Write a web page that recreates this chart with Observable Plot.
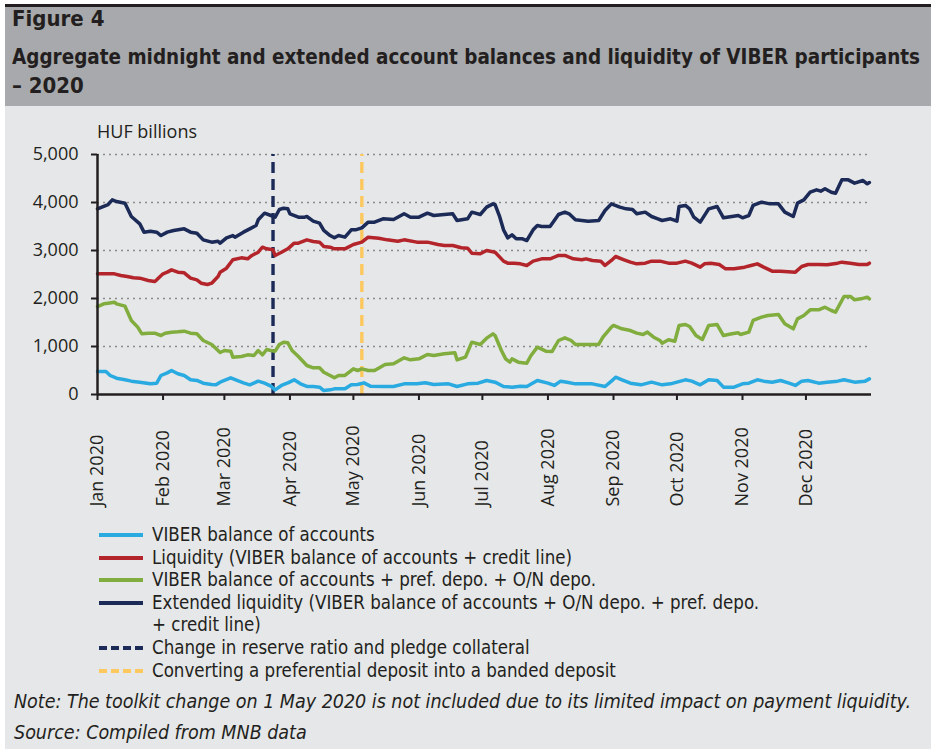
<!DOCTYPE html>
<html>
<head>
<meta charset="utf-8">
<script src="https://cdn.jsdelivr.net/npm/d3@7"></script>
<script src="https://cdn.jsdelivr.net/npm/@observablehq/plot@0.6"></script>
<style>
  body { margin: 0; background: #ffffff; width: 934px; height: 749px; overflow: hidden; position: relative; }
  .abs { position: absolute; white-space: nowrap; }
  .narrow { font-family: "Liberation Sans Narrow", "DejaVu Sans Condensed", sans-serif; color: #231f20; }
  #topline { left: 5px; top: 4px; width: 926px; height: 3px; background: #231f20; }
  #header { left: 5px; top: 7px; width: 926px; height: 99px; background: #a7a9ac; }
  #panel { left: 5px; top: 106px; width: 926px; height: 643px; background: #e6e7e8; }
  .title { font-weight: bold; font-size: 22px; line-height: 28px; left: 12px; transform-origin: 0 50%; }
  .leg { left: 99px; height: 22px; }
  .leg .sw { position: absolute; left: 0; top: 9px; width: 44px; height: 0; border-top: 4px solid; }
  .leg .lt { position: absolute; left: 53px; top: 0; font-size: 19.5px; line-height: 22px; transform-origin: 0 50%; white-space: nowrap; }
  .foot { left: 14px; font-style: italic; font-size: 19.5px; line-height: 24px; transform-origin: 0 50%; }
  #chart { left: 5px; top: 110px; }
  #unit { left: 97px; top: 119px; font-family: "Open Sans", sans-serif; font-size: 18px; line-height: 24px; color: #231f20; }
</style>
</head>
<body>
<div id="topline" class="abs"></div>
<div id="header" class="abs"></div>
<div id="panel" class="abs"></div>
<div class="abs narrow title" id="t1" style="top:5px">Figure 4</div>
<div class="abs narrow title" id="t2" style="top:43px">Aggregate midnight and extended account balances and liquidity of VIBER participants</div>
<div class="abs narrow title" id="t3" style="top:72px">– 2020</div>
<div id="unit" class="abs">HUF billions</div>
<div id="chart" class="abs"></div>
<div id="legend"></div>
<div class="abs narrow foot" id="note" style="top:690px">Note: The toolkit change on 1 May 2020 is not included due to its limited impact on payment liquidity.</div>
<div class="abs narrow foot" id="src" style="top:721px">Source: Compiled from MNB data</div>
<script>
// ---------- data (HUF billions) ----------
const yTicks = [0, 1000, 2000, 3000, 4000, 5000];
const monthStarts = ["2020-01-01","2020-02-01","2020-03-01","2020-04-01","2020-05-01","2020-06-01","2020-07-01","2020-08-01","2020-09-01","2020-10-01","2020-11-01","2020-12-01"];
const monthLabels = ["Jan 2020","Feb 2020","Mar 2020","Apr 2020","May 2020","Jun 2020","Jul 2020","Aug 2020","Sep 2020","Oct 2020","Nov 2020","Dec 2020"];

const seriesNames = [
  "VIBER balance of accounts",
  "Liquidity (VIBER balance of accounts + credit line)",
  "VIBER balance of accounts + pref. depo. + O/N depo.",
  "Extended liquidity (VIBER balance of accounts + O/N depo. + pref. depo.\n+ credit line)"
];
const eventDates = ["2020-03-24", "2020-05-05"];
const eventNames = [
  "Change in reserve ratio and pledge collateral",
  "Converting a preferential deposit into a banded deposit"
];

const viberBalance = [
  ["2020-01-01",479],["2020-01-05",479],["2020-01-07",396],["2020-01-10",340],["2020-01-14",306],["2020-01-17",278],["2020-01-21",257],["2020-01-26",222],["2020-01-29",236],["2020-01-31",396],
  ["2020-02-03",451],["2020-02-05",500],["2020-02-08",431],["2020-02-11",396],["2020-02-14",306],["2020-02-17",292],["2020-02-20",236],["2020-02-24",208],["2020-02-26",201],["2020-02-28",257],
  ["2020-03-01",292],["2020-03-04",347],["2020-03-07",292],["2020-03-10",243],["2020-03-13",201],["2020-03-17",278],["2020-03-20",236],["2020-03-23",174],["2020-03-25",97],["2020-03-28",188],["2020-03-31",243],
  ["2020-04-03",306],["2020-04-06",222],["2020-04-09",167],["2020-04-12",167],["2020-04-15",153],["2020-04-17",83],["2020-04-20",97],["2020-04-22",118],["2020-04-27",118],["2020-04-30",201],
  ["2020-05-03",208],["2020-05-06",243],["2020-05-09",174],["2020-05-16",167],["2020-05-20",167],["2020-05-25",222],["2020-05-31",222],
  ["2020-06-04",243],["2020-06-08",208],["2020-06-15",222],["2020-06-19",167],["2020-06-24",222],["2020-06-29",236],
  ["2020-07-03",292],["2020-07-07",257],["2020-07-11",167],["2020-07-15",153],["2020-07-19",174],["2020-07-22",167],["2020-07-27",292],
  ["2020-08-01",236],["2020-08-04",188],["2020-08-07",278],["2020-08-10",257],["2020-08-14",222],["2020-08-17",222],["2020-08-22",222],["2020-08-28",167],["2020-08-31",278],
  ["2020-09-02",361],["2020-09-05",306],["2020-09-09",236],["2020-09-14",201],["2020-09-19",257],["2020-09-24",201],["2020-09-28",222],
  ["2020-10-01",257],["2020-10-05",306],["2020-10-08",278],["2020-10-12",201],["2020-10-16",306],["2020-10-20",292],["2020-10-23",153],["2020-10-28",153],
  ["2020-11-01",222],["2020-11-04",236],["2020-11-08",306],["2020-11-11",278],["2020-11-15",257],["2020-11-19",292],["2020-11-23",236],["2020-11-26",188],["2020-11-29",278],
  ["2020-12-02",292],["2020-12-07",236],["2020-12-11",257],["2020-12-16",278],["2020-12-19",306],["2020-12-24",257],["2020-12-29",278],["2020-12-31",326]
];

const liquidity = [
  ["2020-01-01",2514],["2020-01-04",2514],["2020-01-09",2514],["2020-01-12",2479],["2020-01-15",2458],["2020-01-18",2431],["2020-01-21",2424],["2020-01-25",2375],["2020-01-28",2354],["2020-01-29",2389],
  ["2020-02-01",2514],["2020-02-03",2549],["2020-02-05",2597],["2020-02-08",2549],["2020-02-11",2535],["2020-02-14",2424],["2020-02-17",2389],["2020-02-19",2319],["2020-02-22",2292],["2020-02-24",2319],["2020-02-27",2458],["2020-02-28",2549],
  ["2020-03-02",2632],["2020-03-05",2806],["2020-03-09",2847],["2020-03-12",2826],["2020-03-14",2896],["2020-03-17",2965],["2020-03-19",3069],["2020-03-21",3035],["2020-03-24",3014],["2020-03-25",2896],["2020-03-28",2965],["2020-03-31",3035],
  ["2020-04-03",3153],["2020-04-05",3153],["2020-04-09",3222],["2020-04-12",3188],["2020-04-15",3174],["2020-04-17",3083],["2020-04-20",3069],["2020-04-22",3035],["2020-04-27",3035],
  ["2020-05-01",3125],["2020-05-05",3174],["2020-05-08",3278],["2020-05-13",3257],["2020-05-17",3222],["2020-05-22",3194],["2020-05-25",3222],["2020-05-31",3174],
  ["2020-06-05",3174],["2020-06-10",3125],["2020-06-13",3104],["2020-06-17",3104],["2020-06-21",3056],["2020-06-24",3049],["2020-06-26",2944],["2020-06-30",2931],
  ["2020-07-03",3000],["2020-07-07",2965],["2020-07-11",2778],["2020-07-13",2736],["2020-07-16",2736],["2020-07-19",2722],["2020-07-22",2688],["2020-07-25",2778],["2020-07-29",2826],
  ["2020-08-02",2826],["2020-08-06",2896],["2020-08-09",2896],["2020-08-13",2826],["2020-08-17",2806],["2020-08-19",2826],["2020-08-22",2792],["2020-08-26",2778],["2020-08-28",2688],["2020-08-31",2792],
  ["2020-09-02",2875],["2020-09-06",2806],["2020-09-09",2757],["2020-09-12",2722],["2020-09-16",2736],["2020-09-19",2778],["2020-09-23",2778],["2020-09-27",2736],
  ["2020-10-01",2736],["2020-10-05",2778],["2020-10-08",2736],["2020-10-12",2653],["2020-10-14",2722],["2020-10-17",2736],["2020-10-21",2708],["2020-10-24",2618],["2020-10-28",2618],
  ["2020-11-02",2653],["2020-11-05",2688],["2020-11-08",2722],["2020-11-11",2653],["2020-11-15",2569],["2020-11-19",2569],["2020-11-26",2549],["2020-11-29",2667],
  ["2020-12-02",2708],["2020-12-07",2708],["2020-12-11",2701],["2020-12-16",2736],["2020-12-18",2757],["2020-12-22",2736],["2020-12-26",2708],["2020-12-30",2708],["2020-12-31",2736]
];

const viberDepo = [
  ["2020-01-01",1833],["2020-01-04",1889],["2020-01-06",1903],["2020-01-09",1924],["2020-01-10",1889],["2020-01-14",1840],["2020-01-17",1542],["2020-01-20",1403],["2020-01-22",1264],["2020-01-25",1278],["2020-01-28",1278],["2020-01-31",1229],
  ["2020-02-02",1278],["2020-02-05",1299],["2020-02-08",1306],["2020-02-11",1319],["2020-02-14",1278],["2020-02-17",1264],["2020-02-20",1125],["2020-02-24",1042],["2020-02-27",917],["2020-02-28",875],
  ["2020-03-01",917],["2020-03-04",903],["2020-03-05",778],["2020-03-09",792],["2020-03-12",826],["2020-03-15",813],["2020-03-17",917],["2020-03-19",826],["2020-03-21",938],["2020-03-23",917],["2020-03-25",903],["2020-03-27",1042],["2020-03-29",1090],["2020-03-31",1076],
  ["2020-04-02",917],["2020-04-05",792],["2020-04-09",604],["2020-04-12",556],["2020-04-15",556],["2020-04-17",465],["2020-04-20",396],["2020-04-22",347],["2020-04-24",396],["2020-04-27",396],
  ["2020-05-01",535],["2020-05-03",500],["2020-05-05",535],["2020-05-08",500],["2020-05-11",500],["2020-05-16",625],["2020-05-20",639],["2020-05-25",764],["2020-05-28",722],
  ["2020-06-01",743],["2020-06-05",833],["2020-06-08",813],["2020-06-13",847],["2020-06-18",868],["2020-06-19",722],["2020-06-23",778],["2020-06-26",1090],["2020-06-30",1042],
  ["2020-07-03",1174],["2020-07-06",1264],["2020-07-07",1229],["2020-07-10",917],["2020-07-12",743],["2020-07-14",674],["2020-07-15",743],["2020-07-18",674],["2020-07-22",653],["2020-07-24",813],["2020-07-27",986],["2020-07-31",903],
  ["2020-08-03",896],["2020-08-06",1125],["2020-08-09",1181],["2020-08-12",1125],["2020-08-14",1042],["2020-08-17",1042],["2020-08-20",1042],["2020-08-25",1042],["2020-08-27",1194],["2020-08-31",1403],
  ["2020-09-01",1438],["2020-09-05",1368],["2020-09-09",1333],["2020-09-12",1278],["2020-09-15",1250],["2020-09-17",1299],["2020-09-20",1194],["2020-09-23",1125],["2020-09-24",1069],["2020-09-27",1139],["2020-09-30",1111],
  ["2020-10-02",1438],["2020-10-05",1458],["2020-10-07",1417],["2020-10-10",1229],["2020-10-13",1146],["2020-10-16",1438],["2020-10-20",1458],["2020-10-23",1229],["2020-10-27",1264],["2020-10-30",1285],["2020-10-31",1250],
  ["2020-11-04",1299],["2020-11-06",1542],["2020-11-10",1611],["2020-11-13",1646],["2020-11-18",1667],["2020-11-21",1472],["2020-11-25",1368],["2020-11-27",1576],["2020-11-30",1646],
  ["2020-12-03",1764],["2020-12-07",1764],["2020-12-10",1819],["2020-12-13",1750],["2020-12-15",1715],["2020-12-19",2042],["2020-12-22",2042],["2020-12-24",1972],["2020-12-27",1993],["2020-12-30",2028],["2020-12-31",1993]
];

const extendedLiquidity = [
  ["2020-01-01",3868],["2020-01-06",3958],["2020-01-08",4055],["2020-01-10",4020],["2020-01-14",3986],["2020-01-17",3708],["2020-01-21",3555],["2020-01-23",3382],["2020-01-26",3403],["2020-01-29",3382],["2020-01-31",3312],
  ["2020-02-03",3382],["2020-02-06",3417],["2020-02-11",3451],["2020-02-14",3382],["2020-02-17",3361],["2020-02-20",3222],["2020-02-24",3174],["2020-02-27",3194],["2020-02-28",3153],
  ["2020-03-02",3264],["2020-03-05",3312],["2020-03-06",3278],["2020-03-10",3382],["2020-03-13",3451],["2020-03-16",3521],["2020-03-17",3639],["2020-03-20",3778],["2020-03-23",3729],["2020-03-25",3694],["2020-03-27",3854],["2020-03-29",3882],["2020-03-31",3868],
  ["2020-04-01",3764],["2020-04-05",3694],["2020-04-08",3694],["2020-04-09",3708],["2020-04-12",3611],["2020-04-15",3569],["2020-04-17",3417],["2020-04-20",3312],["2020-04-22",3264],["2020-04-24",3312],["2020-04-27",3278],["2020-04-30",3431],
  ["2020-05-02",3431],["2020-05-05",3472],["2020-05-08",3590],["2020-05-11",3590],["2020-05-15",3660],["2020-05-20",3646],["2020-05-25",3764],["2020-05-28",3694],
  ["2020-06-01",3694],["2020-06-05",3778],["2020-06-08",3729],["2020-06-13",3750],["2020-06-17",3764],["2020-06-19",3625],["2020-06-24",3660],["2020-06-26",3799],["2020-06-30",3750],
  ["2020-07-03",3903],["2020-07-06",3972],["2020-07-07",3958],["2020-07-09",3729],["2020-07-11",3431],["2020-07-13",3264],["2020-07-15",3326],["2020-07-17",3243],["2020-07-20",3243],["2020-07-22",3208],["2020-07-25",3431],["2020-07-27",3521],["2020-07-29",3500],
  ["2020-08-02",3500],["2020-08-06",3750],["2020-08-09",3799],["2020-08-11",3764],["2020-08-14",3639],["2020-08-17",3625],["2020-08-20",3611],["2020-08-25",3625],["2020-08-28",3833],["2020-08-31",3972],
  ["2020-09-04",3903],["2020-09-07",3868],["2020-09-10",3854],["2020-09-12",3764],["2020-09-16",3799],["2020-09-19",3708],["2020-09-22",3660],["2020-09-24",3625],["2020-09-28",3660],
  ["2020-10-01",3611],["2020-10-02",3917],["2020-10-05",3938],["2020-10-07",3868],["2020-10-09",3694],["2020-10-12",3590],["2020-10-16",3868],["2020-10-20",3917],["2020-10-23",3681],["2020-10-27",3708],["2020-10-30",3729],
  ["2020-11-01",3681],["2020-11-04",3729],["2020-11-06",3938],["2020-11-10",4007],["2020-11-14",3972],["2020-11-18",3972],["2020-11-21",3799],["2020-11-25",3708],["2020-11-27",3986],["2020-11-30",4055],
  ["2020-12-03",4215],["2020-12-06",4264],["2020-12-08",4236],["2020-12-10",4285],["2020-12-13",4215],["2020-12-15",4194],["2020-12-18",4472],["2020-12-21",4472],["2020-12-24",4403],["2020-12-28",4458],["2020-12-30",4389],["2020-12-31",4417]
];

// ---------- styling ----------
const seriesColors = ["#29aae1", "#b3252b", "#80ad3e", "#1b2a57"];
const eventColors = ["#1b2a57", "#fdc85e"];
const ink = "#231f20";

const seriesData = [viberBalance, liquidity, viberDepo, extendedLiquidity];
const toRows = (arr) => arr.map(([d, v]) => ({date: new Date(d + "T00:00:00Z"), value: v}));
const monthDates = monthStarts.map(d => new Date(d + "T00:00:00Z"));
const xStart = new Date("2020-01-01T00:00:00Z");
const xEnd = new Date("2021-01-01T00:00:00Z");

const marks = [
  Plot.ruleY(yTicks.filter(v => v > 0), {stroke: "#8a8a8a", strokeWidth: 1.6, strokeDasharray: "2,4"}),
  ...eventDates.map((d, i) => Plot.ruleX([new Date(d + "T00:00:00Z")], {y1: 0, y2: 5000, stroke: eventColors[i], strokeWidth: 3.4, strokeDasharray: "11,6"})),
  ...seriesData.map((arr, i) => Plot.line(toRows(arr), {x: "date", y: "value", stroke: seriesColors[i], strokeWidth: 3.5, curve: "linear"})),
  Plot.ruleY([0], {x1: xStart, x2: xEnd, stroke: ink, strokeWidth: 2.5}),
  Plot.ruleX([xStart], {y1: 0, y2: 5000, stroke: ink, strokeWidth: 2.5}),
  Plot.axisY({ticks: yTicks, tickFormat: d3.format(","), tickSize: 6, tickPadding: 13, stroke: ink, strokeWidth: 2, label: null, fill: ink}),
  Plot.axisX({ticks: monthDates, tickSize: 6, tickFormat: () => "", stroke: ink, strokeWidth: 2, label: null}),
  Plot.text(monthDates, {x: d => d, text: (d, i) => monthLabels[i], frameAnchor: "bottom", dy: 112, rotate: -90, textAnchor: "start", lineAnchor: "middle", fill: ink, fontSize: 18})
];

const chart = Plot.plot({
  width: 926,
  height: 410,
  marginLeft: 92,
  marginRight: 60,
  marginTop: 44,
  marginBottom: 126,
  style: {background: "transparent", fontFamily: "'Open Sans', sans-serif", fontSize: "18px", color: ink, overflow: "visible"},
  x: {type: "utc", domain: [xStart, xEnd]},
  y: {domain: [0, 5000]},
  marks
});
document.getElementById("chart").appendChild(chart);

// ---------- legend ----------
const legendBox = document.getElementById("legend");
const legendItems = [
  ...seriesNames.map((n, i) => ({name: n, color: seriesColors[i], dashed: false})),
  ...eventNames.map((n, i) => ({name: n, color: eventColors[i], dashed: true}))
];
let legendTop = 524;
const rowStep = 22.6;
const legendTexts = [];
legendItems.forEach(item => {
  const lines = item.name.split("\n");
  const row = document.createElement("div");
  row.className = "abs leg narrow";
  row.style.top = legendTop + "px";
  const sw = document.createElement("div");
  sw.className = "sw";
  sw.style.borderTopColor = item.color;
  if (item.dashed) sw.style.borderTopStyle = "dashed";
  row.appendChild(sw);
  lines.forEach((ln, j) => {
    const t = document.createElement("div");
    t.className = "lt";
    t.style.top = (j * rowStep) + "px";
    t.textContent = ln;
    row.appendChild(t);
    legendTexts.push(t);
  });
  legendBox.appendChild(row);
  legendTop += rowStep * lines.length;
});

// fit condensed text widths to the reference layout
function fit(el, target) {
  const w = el.getBoundingClientRect().width;
  if (w > 0) el.style.transform = `scaleX(${target / w})`;
}
fit(document.getElementById("t2"), 908);
const legScale = 420 / legendTexts[1].getBoundingClientRect().width;
legendTexts.forEach(t => t.style.transform = `scaleX(${legScale})`);
fit(document.getElementById("note"), 897);
</script>
</body>
</html>
